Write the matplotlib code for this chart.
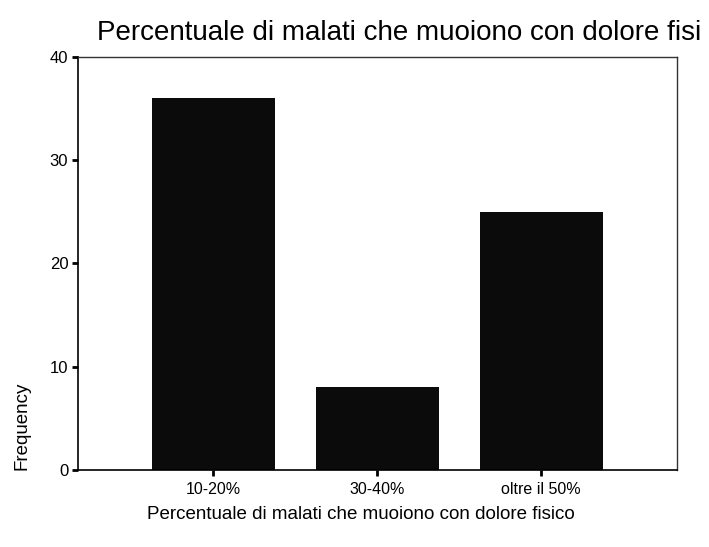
import matplotlib
matplotlib.use("Agg")
import matplotlib.pyplot as plt

categories = ["10-20%", "30-40%", "oltre il 50%"]
frequencies = [36, 8, 25]
title = "Percentuale di malati che muoiono con dolore fisi"
xlabel = "Percentuale di malati che muoiono con dolore fisico"
yticks = [0, 10, 20, 30, 40]

plt.rcParams["font.family"] = ["Liberation Sans", "DejaVu Sans"]

fig = plt.figure(figsize=(7.09, 5.47), dpi=100)
ax = fig.add_axes([0.110, 0.1408, 0.845, 0.755])

x = list(range(len(categories)))
ax.bar(x, frequencies, width=0.75, color="#0b0b0b", edgecolor="none")

ax.set_xlim(-0.825, 2.83)
ax.set_ylim(0, 40)
ax.set_yticks(yticks)
ax.set_xticks(x)
ax.set_xticklabels(categories, fontsize=11.5)
ax.tick_params(axis="y", labelsize=12, length=4, width=2, pad=3)
ax.tick_params(axis="x", length=4, width=2, pad=5)

for side in ["left", "bottom"]:
    ax.spines[side].set_linewidth(1.2)
    ax.spines[side].set_color("black")
for side in ["top", "right"]:
    ax.spines[side].set_linewidth(1.0)
    ax.spines[side].set_color("#333333")

fig.text(97 / 709, 1 - 40 / 547, title, fontsize=20, ha="left", va="baseline")
fig.text(147 / 709, 1 - 519 / 547, xlabel, fontsize=13.5, ha="left", va="baseline")
fig.text(22 / 709, 1 - 470 / 547, "Frequency", fontsize=13.5, rotation=90,
         ha="center", va="bottom")

fig.savefig("out.png", dpi=100)
plt.close(fig)
